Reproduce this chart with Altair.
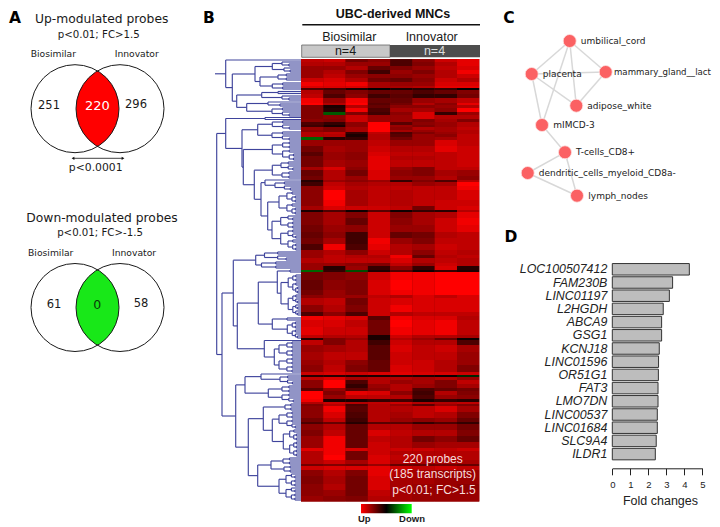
import altair as alt
import numpy as np
import pandas as pd

DJ = "DejaVu Sans"
LS = "Liberation Sans"

# ---------- Panel A values ----------
up_title, up_sub = "Up-modulated probes", "p<0.01; FC>1.5"
down_title, down_sub = "Down-modulated probes", "p<0.01; FC>-1.5"
up_counts = ["251", "220", "296"]
down_counts = ["61", "0", "58"]

# ---------- Panel C values ----------
net_names = ["umbilical_cord", "placenta", "mammary_gland__lact", "adipose_white",
             "mIMCD-3", "T-cells_CD8+", "dendritic_cells_myeloid_CD8a-", "lymph_nodes"]
net_x = [569.7, 531.7, 605.7, 576.3, 542, 565, 527.7, 577]
net_y = [41, 74, 72, 105.7, 125, 152.3, 173, 195.7]
net_edges = [(0, 1), (0, 2), (0, 3), (0, 4), (1, 2), (1, 3), (1, 4), (2, 3),
             (4, 5), (5, 6), (5, 7), (6, 7)]

# ---------- Panel D values ----------
genes = ["LOC100507412", "FAM230B", "LINC01197", "L2HGDH", "ABCA9", "GSG1", "KCNJ18",
         "LINC01596", "OR51G1", "FAT3", "LMO7DN", "LINC00537", "LINC01684", "SLC9A4", "ILDR1"]
fold = [4.28, 3.35, 3.17, 2.83, 2.74, 2.74, 2.61, 2.57, 2.56, 2.54, 2.54, 2.5, 2.5, 2.44, 2.39]

# ---------- Panel B heat map: (row start, eight sample levels) ----------
heat_a = [
 (59, [.75,.8,.45,.55,.3,.55,.8,.9]), (62, [.7,.7,.6,.6,.3,.5,.7,.9]),
 (66, [.6,.6,.7,.4,.5,.6,.75,.85]), (70, [.6,.7,.5,.25,.6,.5,.7,.95]),
 (74, [.6,.75,.6,.55,.55,.6,.7,.8]), (78, [.8,.85,.7,.45,.4,.55,.8,.7]),
 (82, [.95,.9,.95,.65,.6,.6,.85,.85]), (86, [.85,.85,.85,.65,.65,.7,.9,.9]),
 (88, [.3,.25,.1,.0,.1,.15,.2,.0]), (90, [.7,.4,.5,.4,.4,.3,.4,.5]),
 (94, [.75,.3,.55,.25,.35,.2,.2,.45]), (98, [.95,.6,.95,.4,.4,.6,.65,.75]),
 (103, [1,.7,1,.35,.45,.7,.55,.9]), (105, [.5,.1,.7,.4,.55,.55,.6,.7]),
 (108, [.5,.15,.95,.3,.65,.65,.55,1]), (112, [.5,-.35,.5,.25,.55,.85,.2,.6]),
 (115, [.5,.55,.8,.6,.6,.85,.7,.7]), (119, [.55,.5,.8,.6,.6,.5,.65,.5]),
 (122, [.3,.2,.55,1,.35,.55,.6,.7]), (125, [.25,.1,.55,1,.6,.5,.6,.7]),
 (127, [.6,.5,.65,1,.55,.7,.65,.75]), (130, [.55,.5,.65,1,.65,.6,.65,.7]),
 (132, [.7,.75,.2,.75,.3,.5,.6,.7]), (134, [.7,.7,.1,.7,.35,.6,.55,.75]),
 (137, [-.4,.15,.2,.7,.45,.6,.65,.75]), (140, [.6,.6,.6,.75,.6,.6,.85,.75]),
 (146, [.45,.65,.6,.8,.7,.7,.9,.8]), (152, [.35,.6,.55,.85,.75,.75,.75,.8]),
 (156, [.45,.6,.55,.9,.7,.7,.75,.8]), (160, [.45,.65,.6,.9,.75,.75,.75,.8]),
 (167, [.65,.85,.55,.9,.6,.5,.75,.75]),
]
heat_b = [
 (170, [.4,.7,.45,.85,.55,.5,.65,.6]), (176, [.45,.7,.6,.85,.6,.6,.7,.55]),
 (180, [.15,.6,.55,.6,.2,.5,.3,.7]), (182, [.25,.75,.65,.7,.7,.6,.65,1]),
 (186, [.55,.8,.7,.75,.75,.75,.75,.95]), (190, [.55,1,.65,.75,.7,.75,.75,.85]),
 (200, [.55,.95,.65,.75,.7,.75,.8,.8]), (206, [.65,.85,.8,.8,.75,.45,.8,.85]),
 (210, [.1,.3,.05,.35,.05,.2,.15,.7]), (212, [.5,.65,.5,.8,.5,.65,.7,.9]),
 (218, [.5,.65,.4,.8,.55,.65,.8,.95]), (225, [.45,.6,.55,.8,.6,.6,.8,.9]),
 (232, [.4,.55,.25,.8,.4,.45,.7,.75]), (238, [.45,.65,.25,.95,.6,.5,.75,.75]),
 (244, [.3,.95,.3,.9,.7,.65,.8,.75]), (250, [.6,.7,.55,.8,.7,.55,.75,.7]),
 (255, [.6,.75,.7,.7,.95,.4,.7,.75]), (258, [.7,.75,.75,.75,.85,.7,.75,.7]),
 (263, [.6,.6,.55,.5,.75,.6,.8,.7]), (266, [.6,.15,.6,.2,.55,.2,.85,.15]),
 (270, [-.4,.2,-.3,.1,.3,.05,.2,.1]), (272, [.45,.5,.55,.8,.95,.95,1,1]),
 (280, [.4,.55,.5,.85,1,.95,1,1]), (290, [.45,.6,.5,.85,.95,.95,1,1]),
 (295, [.55,.6,.6,.75,.7,.85,.75,.85]), (298, [.7,.75,.45,.8,.85,.85,.85,.85]),
 (305, [.55,.7,.5,.8,.95,.85,.85,.85]), (312, [.3,.55,.3,.8,.7,.75,.75,.75]),
 (316, [.95,.9,.85,.35,.95,.85,.85,.7]), (320, [.85,.85,.75,.45,1,.9,.95,.75]),
 (327, [.9,.8,.8,.45,.95,.9,.95,.75]), (335, [.75,.7,.7,.1,.8,.7,.7,.65]),
 (338, [.15,.5,.6,.1,.7,.6,.4,.05]), (340, [.75,.5,.7,.25,.8,.7,.7,.3]),
]
heat_c = [
 (345, [.6,.65,.7,.35,.85,.75,.8,.65]), (352, [.65,.75,.75,.35,.8,.75,.75,.6]),
 (360, [.6,.7,.55,.4,.8,.8,.7,.6]), (365, [.55,.75,.5,.4,.85,.8,.7,.5]),
 (372, [.8,.85,.8,.85,.9,.85,.85,.8]), (375, [.15,.15,.1,.1,.15,.1,.05,-.15]),
 (377, [.75,.85,.65,.7,.7,.65,.7,.6]), (380, [.55,1,.3,.7,.6,.65,.5,.75]),
 (384, [.55,1,.2,.6,.7,.6,.5,.65]), (388, [.35,.6,.35,.55,.7,.3,.4,.45]),
 (391, [1,.5,.9,.85,.55,.25,.7,.5]), (395, [1,.6,.75,.75,.7,.3,.6,.55]),
 (399, [.95,.1,.1,.2,.25,.1,.2,.15]), (402, [.7,.8,.7,.75,.8,.7,.7,.75]),
 (404, [.5,.7,.3,.7,.6,.35,.6,.5]), (406, [.55,.95,.35,.7,.7,.75,.85,.65]),
 (412, [.55,.85,.3,.7,.65,.75,.7,.5]), (418, [.45,.75,.25,.7,.6,.55,.6,.4]),
 (422, [.3,.4,.15,.35,.35,.2,.3,.2]), (424, [.55,.7,.4,.7,.7,.6,.6,.45]),
 (430, [.5,.75,.4,.85,.75,.7,.7,.5]), (436, [.6,.95,.4,.75,.7,.45,.55,.4]),
 (442, [.6,.95,.4,.8,.7,.6,.65,.65]), (448, [.9,.95,.85,.8,.8,.8,.75,.8]),
 (451, [.7,.95,.45,.8,.7,.7,.7,.7]), (455, [.7,1,.45,.85,.75,.7,.7,.7]),
 (460, [.7,.8,.65,.85,.7,.65,.65,.65]), (464, [.45,.5,.45,.6,.4,.4,.45,.4]),
 (466, [.8,.85,.85,.9,.8,.75,.8,.75]), (470, [.55,.7,.5,.9,.7,.65,.6,.6]),
 (476, [.5,.65,.45,.85,.65,.65,.6,.6]), (484, [.55,.7,.45,.85,.65,.6,.6,.55]),
 (490, [.55,.6,.45,.75,.65,.6,.6,.6]), (496, [.6,.55,.5,.7,.65,.6,.6,.6]),
]
heat_end = 501.5


# ---------- Panel B dendrogram: merge heights and leaf rows ----------
LEAF_X = 301.0
def N(x, *kids):
    return (x, kids)

def C(x, y0, y1):
    if y1 - y0 < 2:
        return float(y0)
    mid = y0 + round((y1 - y0) / 4) * 2 - 2 if (y1 - y0) > 4 else y0
    nx = x + (LEAF_X - x) * 0.36
    return N(x, C(nx, y0, mid), C(nx, mid + 2, y1))

tree_top = N(225.7, 60.0, N(232.3,
    N(255, N(272.3, C(282, 62, 66), C(284, 68, 72)), N(260, C(278, 74, 81), C(272.3, 83, 90))),
    N(236.7, N(261.7, C(278, 91.5, 94), C(282, 96, 100)), N(246.7, C(268, 102, 106), C(272, 108, 116)))))

tree_mid = N(225.7, N(265, 117.5, 119.5), N(242,
    N(257.7, C(272.3, 121, 130), C(272, 132, 140)),
    N(243.3, C(272.3, 142, 160), N(254.3,
        N(272.3, C(281, 162, 170), C(282, 172, 178)),
        N(261, N(265, 180.0, C(275, 182, 190)),
          N(267.7, C(279, 192, 214),
            N(272, C(280.7, 216, 228), C(280.7, 230, 250))))))))

tree_low = N(222,
    N(233.3,
      N(255.7, C(264.5, 252, 261), C(261.5, 262, 269)),
      N(237.3,
        N(258.3, N(277.3, C(290, 270, 273), C(281, 275, 316)),
                 N(272.3, C(287, 318, 320), C(287.3, 322, 338))),
        N(264.3, 340.5, N(274.3, C(279, 342, 356), C(279, 358, 372))))),
    N(235.7,
      N(245, N(261, 374.0, C(280, 376, 384)), N(268.3, C(282, 386, 392), C(282, 394, 402))),
      N(248.3,
        N(263.3, C(285, 404, 410), N(272.3, C(279, 412, 428), C(283.3, 430, 456))),
        N(257.7, N(271, C(283, 458, 464), C(284, 466, 472)),
                 N(279, C(286, 474, 486), C(286, 488, 500))))))

segs = []
def walk(node):
    if not isinstance(node, tuple):
        return float(node), LEAF_X
    x, kids = node
    pts = [walk(k) for k in kids]
    for yc, xc in pts:
        segs.append(dict(x=x, x2=xc, y=yc, y2=yc))
    segs.append(dict(x=x, x2=x, y=pts[0][0], y2=pts[-1][0]))
    return (pts[0][0] + pts[-1][0]) / 2, x

y_top, x_top = walk(tree_top)
segs.append(dict(x=215, x2=x_top, y=y_top, y2=y_top))
y_m, x_m = walk(tree_mid)
y_l, x_l = walk(tree_low)
segs.append(dict(x=216.7, x2=x_m, y=y_m, y2=y_m))
segs.append(dict(x=216.7, x2=x_l, y=y_l, y2=y_l))
segs.append(dict(x=216.7, x2=216.7, y=y_m, y2=y_l))
dendro = pd.DataFrame(segs)

# ---------- helpers ----------
FX = alt.Scale(domain=[8, 712], range=[0, 704])
FY = alt.Scale(domain=[8, 527], range=[0, 519])

def txt(s, x, y, size, font=DJ, color="#1a1a1a", weight="normal", align="center", style="normal"):
    return alt.Chart(pd.DataFrame({"t": [s]})).mark_text(
        fontSize=size, font=font, color=color, fontWeight=weight, align=align,
        baseline="middle", fontStyle=style
    ).encode(x=alt.value(x - 8), y=alt.value(y - 8), text=alt.Text("t:N"))

def box(x0, x1, y0, y1, fill, stroke=None, sw=1):
    kw = dict(fill=fill)
    if stroke:
        kw.update(stroke=stroke, strokeWidth=sw)
    return alt.Chart(pd.DataFrame({"a": [0]})).mark_rect(**kw).encode(
        x=alt.value(x0 - 8), x2=alt.value(x1 - 8), y=alt.value(y0 - 8), y2=alt.value(y1 - 8))

def hline(x0, x1, y, color="#111", sw=1):
    return alt.Chart(pd.DataFrame({"a": [0]})).mark_rule(color=color, strokeWidth=sw).encode(
        x=alt.value(x0 - 8), x2=alt.value(x1 - 8), y=alt.value(y - 8))

def venn(cy, fill):
    cl, cr, r = 75.0, 120.0, 44.0
    xs = np.linspace(cr - r, cl + r, 61)
    half = np.sqrt(np.maximum(r**2 - np.maximum(xs - cl, cr - xs)**2, 0))
    lens = pd.DataFrame({"x": xs, "y": cy - half, "y2": cy + half})
    area = alt.Chart(lens).mark_area(color=fill).encode(
        x=alt.X("x:Q", scale=FX, axis=None), y=alt.Y("y:Q", scale=FY, axis=None), y2="y2:Q")
    rings = alt.Chart(pd.DataFrame({"x": [cl, cr], "y": [cy, cy]})).mark_point(
        shape="circle", filled=False, size=(2 * r)**2, color="#1a1a1a", strokeWidth=1, opacity=1
    ).encode(x=alt.X("x:Q", scale=FX, axis=None), y=alt.Y("y:Q", scale=FY, axis=None))
    return [area, rings]

layers = []

# Panel letters
for s, x, y in [("A", 15, 18), ("B", 209, 18), ("C", 509, 18), ("D", 511, 237)]:
    layers.append(txt(s, x, y, 15.5, weight="bold", color="#000"))

# Panel A
layers += venn(108.7, "#ff0000") + venn(307.5, "#18e818")
layers += [
    txt(up_title, 101.7, 19, 12.3), txt(up_sub, 98.7, 34.7, 10.2),
    txt("Biosimilar", 53.3, 54.3, 9.2), txt("Innovator", 136.7, 54, 9.2),
    txt(up_counts[0], 49, 106, 11.5), txt(up_counts[1], 97.3, 106, 13, color="#ffffff"),
    txt(up_counts[2], 136, 104.5, 11.5),
    hline(73, 123, 158.3, sw=0.8),
    txt("p<0.0001", 95.7, 167.7, 10.8),
    txt(down_title, 102, 217.7, 12.3), txt(down_sub, 100, 233, 10.2),
    txt("Biosimilar", 50.7, 253.3, 9.2), txt("Innovator", 134, 253, 9.2),
    txt(down_counts[0], 54, 305, 11.5), txt(down_counts[1], 97.3, 305, 12.5, color="#0a3a0a"),
    txt(down_counts[2], 141, 303.5, 11.5),
]
layers.append(alt.Chart(pd.DataFrame({"x": [73, 123], "s": ["triangle-left", "triangle-right"]})).mark_point(
    filled=True, size=10, color="#111", opacity=1).encode(
    x=alt.X("x:Q", scale=FX, axis=None), y=alt.value(158.3 - 8),
    shape=alt.Shape("s:N", scale=None, legend=None)))

# Panel B: dendrogram
layers.append(alt.Chart(dendro).mark_rule(color="#3f449c", strokeWidth=1.15).encode(
    x=alt.X("x:Q", scale=FX, axis=None), x2="x2:Q",
    y=alt.Y("y:Q", scale=FY, axis=None), y2="y2:Q"))

# Panel B: heat map
heat_all = heat_a + heat_b + heat_c
rows = []
for i, (top, vals) in enumerate(heat_all):
    bot = heat_all[i + 1][0] if i + 1 < len(heat_all) else heat_end
    for c, v in enumerate(vals):
        rows.append(dict(c=c, c2=c + 1, y=top, y2=bot, v=v))
layers.append(box(301, 479.3, 59, heat_end, "#8a0000"))
layers.append(alt.Chart(pd.DataFrame(rows)).mark_rect().encode(
    x=alt.X("c:Q", scale=alt.Scale(domain=[0, 8], range=[293, 471.3]), axis=None), x2="c2:Q",
    y=alt.Y("y:Q", scale=FY, axis=None), y2="y2:Q",
    color=alt.Color("v:Q", legend=None, scale=alt.Scale(
        domain=[-1, 0, 1], range=["#00ff00", "#000000", "#ff0000"], interpolate="rgb"))))

layers += [
    txt("UBC-derived MNCs", 393, 14, 12.5, font=LS, weight="bold", color="#111"),
    hline(302.3, 480, 24.7, sw=1.5),
    txt("Biosimilar", 349.3, 36.5, 12.5, font=LS), txt("Innovator", 431.7, 36.5, 12.5, font=LS),
    box(301.7, 390, 45, 57.3, "#c8c8c8", "#666666", 0.8), box(390, 480, 45, 57.3, "#4d4d4d"),
    txt("n=4", 345.5, 51.3, 12.5, font=LS), txt("n=4", 434.5, 51.3, 12.5, font=LS, color="#dddddd"),
    txt("220 probes", 432.7, 459, 12, font=LS, color="#f6dcdc"),
    txt("(185 transcripts)", 432.7, 474, 12, font=LS, color="#f6dcdc"),
    txt("p<0.01; FC>1.5", 434, 490, 12, font=LS, color="#f6dcdc"),
    txt("Up", 364.3, 519, 9.5, font=LS, weight="bold"),
    txt("Down", 412, 519, 9.5, font=LS, weight="bold"),
]
layers.append(alt.Chart(pd.DataFrame({"a": [0]})).mark_rect(
    fill=alt.Gradient(gradient="linear", x1=0, x2=1, y1=0, y2=0, stops=[
        alt.GradientStop(color="#ff0000", offset=0), alt.GradientStop(color="#000000", offset=0.5),
        alt.GradientStop(color="#00ff00", offset=1)])
).encode(x=alt.value(361 - 8), x2=alt.value(411.7 - 8), y=alt.value(504 - 8), y2=alt.value(513.3 - 8)))

# Panel C
edges = pd.DataFrame([dict(x=net_x[a], x2=net_x[b], y=net_y[a], y2=net_y[b]) for a, b in net_edges])
layers.append(alt.Chart(edges).mark_rule(color="#d8d8d8", strokeWidth=1.5).encode(
    x=alt.X("x:Q", scale=FX, axis=None), x2="x2:Q",
    y=alt.Y("y:Q", scale=FY, axis=None), y2="y2:Q"))
layers.append(alt.Chart(pd.DataFrame({"x": net_x, "y": net_y, "n": net_names})).mark_point(
    shape="circle", filled=True, size=170, color="#fb6163", opacity=1, stroke="#fde3e3", strokeWidth=0.8
).encode(x=alt.X("x:Q", scale=FX, axis=None), y=alt.Y("y:Q", scale=FY, axis=None)))
net_lab_x = [580.7, 542.7, 614, 587.3, 553.3, 576, 538.7, 588.3]
net_lab_size = [9, 9, 8.6, 9, 9, 9, 9, 9]
for name, lx, y, sz in zip(net_names, net_lab_x, net_y, net_lab_size):
    layers.append(txt(name, lx, y, sz, align="left", color="#222222"))

# Panel D
layers.append(alt.Chart(pd.DataFrame({"g": genes, "v": fold})).mark_bar(
    fill="#bdbdbd", stroke="#333333", strokeWidth=1
).encode(
    x=alt.X("v:Q", scale=alt.Scale(domain=[0, 5], range=[604.3, 694.3], nice=False),
            axis=alt.Axis(orient="bottom", offset=-58.7, values=[0, 1, 2, 3, 4, 5], grid=False,
                          title="Fold changes", titleFont=LS, titleFontSize=12.5, titleFontWeight="normal",
                          titleColor="#222222", titlePadding=5, titleX=652,
                          labelFont=LS, labelFontSize=9.5, labelColor="#222222", labelPadding=5,
                          tickSize=6.5, tickColor="#222222", domainColor="#222222", labelFlush=False)),
    y=alt.Y("g:N", sort=genes, scale=alt.Scale(domain=genes, range=[254.7, 452.7], paddingInner=0.13, paddingOuter=0.065),
            axis=alt.Axis(orient="left", offset=-604.3, title=None, domain=False, ticks=False, grid=False,
                          labelFont=LS, labelFontSize=12.4, labelFontStyle="italic", labelColor="#222222",
                          labelPadding=5.5))))

chart = alt.layer(*layers).resolve_scale(x="independent", y="independent", color="independent", shape="independent").properties(
    width=704, height=519, padding=0, autosize=alt.AutoSizeParams(type="none")
).configure_view(stroke=None)

chart.save("out.html", embed_options={"renderer": "svg", "actions": False})
